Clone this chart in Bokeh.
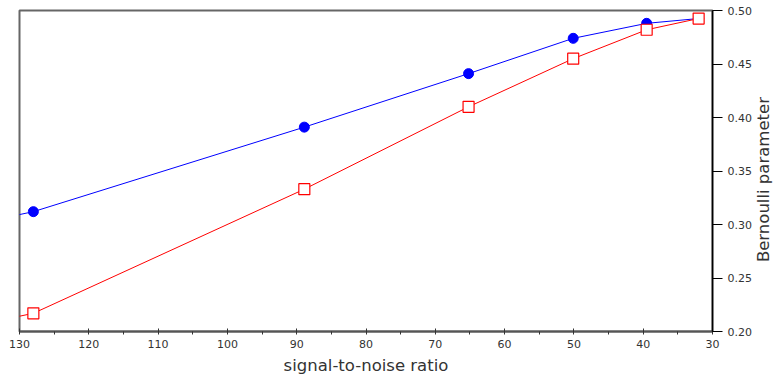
import math
from bokeh.plotting import figure
from bokeh.layouts import row
from bokeh.models import Range1d, LinearAxis, FixedTicker, NumeralTickFormatter
from bokeh.core.properties import value
from bokeh.embed import file_html
from bokeh.resources import INLINE

snr = [181, 128, 88.9, 65.2, 50.1, 39.5, 32.0]
blue_vals = [0.240, 0.312, 0.391, 0.441, 0.474, 0.488, 0.4925]
red_vals = [0.145, 0.217, 0.333, 0.410, 0.455, 0.482, 0.4925]
x_ticks = [30, 40, 50, 60, 70, 80, 90, 100, 110, 120, 130]
x_minor = [35, 45, 55, 65, 75, 85, 95, 105, 115, 125]
y_ticks = [0.20, 0.25, 0.30, 0.35, 0.40, 0.45, 0.50]

font = "DejaVu Sans"

p = figure(width=754, height=378, output_backend="svg", toolbar_location=None,
           x_range=Range1d(130, 30), y_range=Range1d(0.2, 0.5),
           x_axis_location=None, y_axis_location=None,
           min_border_left=19, min_border_top=10, min_border_right=40, min_border_bottom=10)
p.xgrid.visible = False
p.ygrid.visible = False
p.outline_line_color = "#666666"
p.outline_line_width = 2
p.background_fill_color = "white"

xa = LinearAxis(axis_label="signal-to-noise ratio")
xa.ticker = FixedTicker(ticks=x_ticks, minor_ticks=x_minor)
xa.axis_line_color = "#555555"
xa.axis_line_width = 2
xa.major_tick_in = 3
xa.major_tick_out = 3
xa.minor_tick_in = 0
xa.minor_tick_out = 3
xa.major_tick_line_color = "#333333"
xa.minor_tick_line_color = "#333333"
xa.major_label_text_font = font
xa.major_label_text_font_size = "11px"
xa.major_label_text_color = "#333333"
xa.major_label_standoff = 5
xa.axis_label_text_font = font
xa.axis_label_text_font_size = "16.5px"
xa.axis_label_text_font_style = "normal"
xa.axis_label_text_color = "#333333"
xa.axis_label_standoff = 5
p.add_layout(xa, "below")

ya = LinearAxis()
ya.ticker = FixedTicker(ticks=y_ticks, minor_ticks=[])
ya.formatter = NumeralTickFormatter(format="0.00")
ya.axis_line_color = "black"
ya.axis_line_width = 1.5
ya.major_tick_in = 0
ya.major_tick_out = 10
ya.minor_tick_out = 0
ya.minor_tick_in = 0
ya.major_tick_line_color = "black"
ya.major_label_text_font = font
ya.major_label_text_font_size = "11px"
ya.major_label_text_color = "#333333"
ya.major_label_standoff = 5
p.add_layout(ya, "right")

p.line(snr, blue_vals, line_color="blue", line_width=1)
p.scatter(snr, blue_vals, marker="circle", size=10, fill_color="blue", line_color="blue")
p.line(snr, red_vals, line_color="red", line_width=1)
p.scatter(snr, red_vals, marker="square", size=11, fill_color="white", line_color="red", line_width=1.2)

# right-side axis title, reading bottom-to-top
p2 = figure(width=29, height=378, output_backend="svg", toolbar_location=None,
            x_range=Range1d(0, 1), y_range=p.y_range,
            x_axis_location=None, y_axis_location=None,
            min_border_left=0, min_border_right=0, min_border_top=10, min_border_bottom=47)
p2.xgrid.visible = False
p2.ygrid.visible = False
p2.outline_line_color = None
p2.text(x=[0.32], y=[0.342], text=["Bernoulli parameter"], angle=math.pi / 2,
        text_align="center", text_baseline="middle", text_font=value(font),
        text_font_size="16.5px", text_color="#333333")

layout = row(p, p2)
open("out.html", "w").write(file_html(layout, INLINE))
